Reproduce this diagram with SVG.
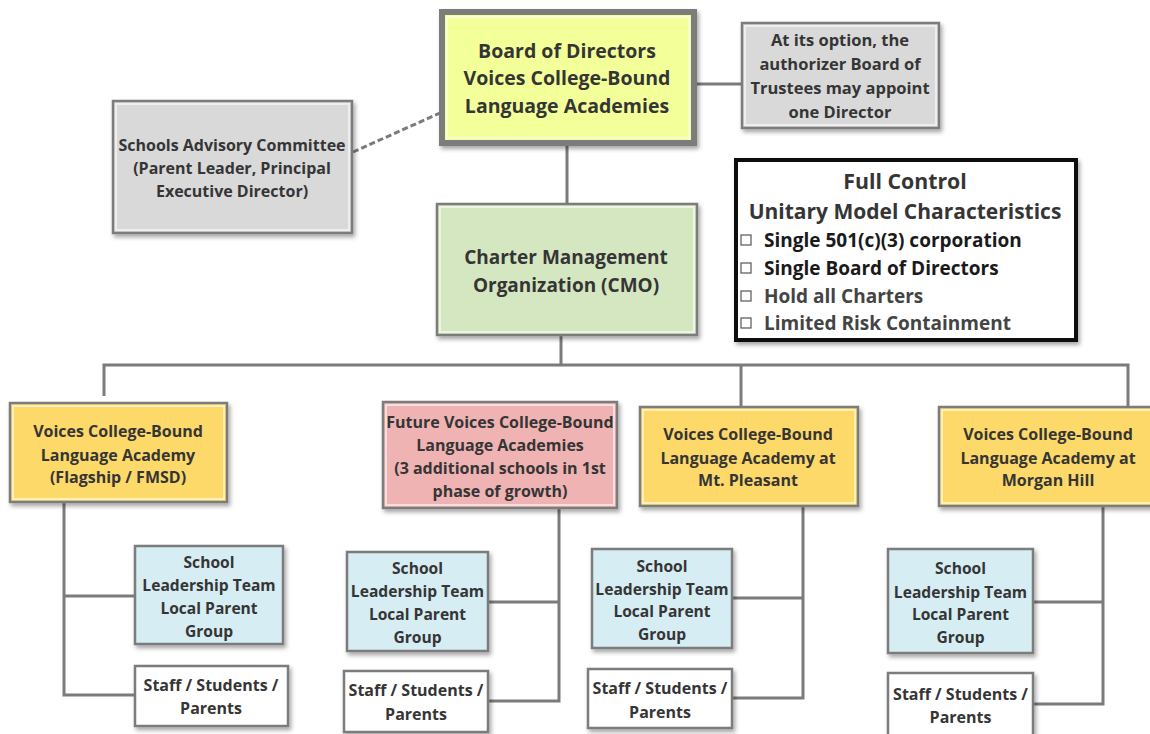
<svg xmlns="http://www.w3.org/2000/svg" width="1150" height="734" viewBox="0 0 1150 734">
<defs>
<filter id="sh" x="-10%" y="-10%" width="130%" height="130%">
<feDropShadow dx="2" dy="3" stdDeviation="2" flood-color="#000" flood-opacity="0.35"/>
</filter>
<style>
text{font-family:"Open Sans","Liberation Sans",sans-serif;font-weight:bold;fill:#353535;text-anchor:middle}
.box{stroke:#7b7b7b;stroke-width:2.5;filter:url(#sh)}
.in{fill:none;stroke:#fff;stroke-opacity:0.55;stroke-width:2}
.ln{stroke:#7b7b7b;stroke-width:3;fill:none}
.t16{font-size:16px}
.tl{font-size:15.6px}
.t19{font-size:19.5px}
.cb{fill:#fff;stroke:#555;stroke-width:1.2}
.lt{text-anchor:start;font-size:19px;fill:#1a1a1a}
</style>
</defs>
<rect width="1150" height="734" fill="#fff"/>
<g id="connectors">
<line class="ln" x1="697" y1="84" x2="742" y2="84"/>
<line class="ln" x1="353" y1="152" x2="440" y2="113" stroke-dasharray="6 3"/>
<line class="ln" x1="567" y1="146" x2="567" y2="204"/>
<polyline class="ln" points="561,335 561,365"/>
<polyline class="ln" points="104,396 104,365 1128,365 1128,407"/>
<line class="ln" x1="741" y1="365" x2="741" y2="407"/>
<line class="ln" x1="135" y1="596" x2="64" y2="596"/>
<polyline class="ln" points="64,502 64,695 135,695"/>
<polyline class="ln" points="559,508 559,701 488,701"/>
<line class="ln" x1="488" y1="602" x2="559" y2="602"/>
<polyline class="ln" points="803,506 803,698 732,698"/>
<line class="ln" x1="732" y1="598" x2="803" y2="598"/>
<polyline class="ln" points="1103,506 1103,704 1033,704"/>
<line class="ln" x1="1033" y1="602" x2="1103" y2="602"/>
</g>
<g id="board">
<rect x="442" y="12" width="252" height="131" fill="#f3ff99" stroke="#7b7b7b" stroke-width="6" filter="url(#sh)"/>
<rect x="447" y="17" width="242" height="121" class="in"/>
<text class="t19" x="567" y="58">Board of Directors</text>
<text class="t19" x="567" y="85">Voices College-Bound</text>
<text class="t19" x="567" y="113">Language Academies</text>
</g>
<g id="option">
<rect class="box" x="742" y="23" width="197" height="105" fill="#d9d9d9"/>
<rect x="745" y="26" width="191" height="99" class="in"/>
<text x="840" y="46" style="font-size:16.5px">At its option, the</text>
<text x="840" y="70" style="font-size:16.5px">authorizer Board of</text>
<text x="840" y="94" style="font-size:16.5px">Trustees may appoint</text>
<text x="840" y="118" style="font-size:16.5px">one Director</text>
</g>
<g id="advisory">
<rect class="box" x="113" y="101" width="239" height="132" fill="#d9d9d9"/>
<rect x="116" y="104" width="233" height="126" class="in"/>
<text class="t16" x="232" y="151">Schools Advisory Committee</text>
<text class="t16" x="232" y="174">(Parent Leader, Principal</text>
<text class="t16" x="232" y="197">Executive Director)</text>
</g>
<g id="cmo">
<rect class="box" x="437" y="204" width="260" height="131" fill="#d4e7c0"/>
<rect x="440" y="207" width="254" height="125" class="in"/>
<text x="566" y="264" style="font-size:19px">Charter Management</text>
<text x="566" y="292" style="font-size:19px">Organization (CMO)</text>
</g>
<g id="fullcontrol">
<rect x="736" y="160" width="340" height="180" fill="#fff" stroke="#111" stroke-width="4" filter="url(#sh)"/>
<text x="905" y="189" style="font-size:21.3px">Full Control</text>
<text x="905" y="219" style="font-size:21px">Unitary Model Characteristics</text>
<rect class="cb" x="741" y="235" width="10" height="10"/>
<rect class="cb" x="741" y="263" width="10" height="10"/>
<rect class="cb" x="741" y="291" width="10" height="10"/>
<rect class="cb" x="741" y="318" width="10" height="10"/>
<text class="lt" x="764" y="247">Single 501(c)(3) corporation</text>
<text class="lt" x="764" y="275">Single Board of Directors</text>
<text class="lt" x="764" y="303" style="fill:#444">Hold all Charters</text>
<text class="lt" x="764" y="330" style="fill:#444">Limited Risk Containment</text>
</g>
<g id="flagship">
<rect class="box" x="10" y="403" width="217" height="99" fill="#fdd96b"/>
<rect x="13" y="406" width="211" height="93" class="in"/>
<text class="t16" x="118" y="437">Voices College-Bound</text>
<text class="t16" x="118" y="461">Language Academy</text>
<text class="t16" x="118" y="483">(Flagship / FMSD)</text>
</g>
<g id="future">
<rect class="box" x="383" y="402" width="234" height="106" fill="#efb3b3"/>
<rect x="386" y="405" width="228" height="100" class="in"/>
<text class="t16" x="500" y="428">Future Voices College-Bound</text>
<text class="t16" x="500" y="451">Language Academies</text>
<text class="t16" x="500" y="474">(3 additional schools in 1st</text>
<text class="t16" x="500" y="497">phase of growth)</text>
</g>
<g id="mtpleasant">
<rect class="box" x="640" y="407" width="218" height="99" fill="#fdd96b"/>
<rect x="643" y="410" width="212" height="93" class="in"/>
<text class="t16" x="748" y="440">Voices College-Bound</text>
<text class="t16" x="748" y="464">Language Academy at</text>
<text class="t16" x="748" y="486">Mt. Pleasant</text>
</g>
<g id="morganhill">
<rect class="box" x="939" y="407" width="220" height="99" fill="#fdd96b"/>
<rect x="942" y="410" width="214" height="93" class="in"/>
<text class="t16" x="1048" y="440">Voices College-Bound</text>
<text class="t16" x="1048" y="464">Language Academy at</text>
<text class="t16" x="1048" y="486">Morgan Hill</text>
</g>
<g id="slt1">
<rect class="box" x="135" y="546" width="148" height="98" fill="#d6edf3"/>
<text class="tl" x="209" y="568">School</text>
<text class="tl" x="209" y="591">Leadership Team</text>
<text class="tl" x="209" y="614">Local Parent</text>
<text class="tl" x="209" y="637">Group</text>
</g>
<g id="staff1">
<rect class="box" x="135" y="666" width="153" height="60" fill="#fff"/>
<text class="t16" x="211" y="691">Staff / Students /</text>
<text class="t16" x="211" y="714">Parents</text>
</g>
<g id="slt2">
<rect class="box" x="347" y="552" width="141" height="99" fill="#d6edf3"/>
<text class="tl" x="417.5" y="574">School</text>
<text class="tl" x="417.5" y="597">Leadership Team</text>
<text class="tl" x="417.5" y="620">Local Parent</text>
<text class="tl" x="417.5" y="643">Group</text>
</g>
<g id="staff2">
<rect class="box" x="344" y="671" width="144" height="61" fill="#fff"/>
<text class="t16" x="416" y="696">Staff / Students /</text>
<text class="t16" x="416" y="720">Parents</text>
</g>
<g id="slt3">
<rect class="box" x="592" y="549" width="140" height="99" fill="#d6edf3"/>
<text class="tl" x="662" y="572">School</text>
<text class="tl" x="662" y="595">Leadership Team</text>
<text class="tl" x="662" y="617">Local Parent</text>
<text class="tl" x="662" y="640">Group</text>
</g>
<g id="staff3">
<rect class="box" x="588" y="669" width="144" height="59" fill="#fff"/>
<text class="t16" x="660" y="694">Staff / Students /</text>
<text class="t16" x="660" y="718">Parents</text>
</g>
<g id="slt4">
<rect class="box" x="888" y="549" width="145" height="104" fill="#d6edf3"/>
<text class="tl" x="960.5" y="574">School</text>
<text class="tl" x="960.5" y="598">Leadership Team</text>
<text class="tl" x="960.5" y="620">Local Parent</text>
<text class="tl" x="960.5" y="643">Group</text>
</g>
<g id="staff4">
<rect class="box" x="888" y="673" width="145" height="65" fill="#fff"/>
<text class="t16" x="960.5" y="700">Staff / Students /</text>
<text class="t16" x="960.5" y="723">Parents</text>
</g>
</svg>
